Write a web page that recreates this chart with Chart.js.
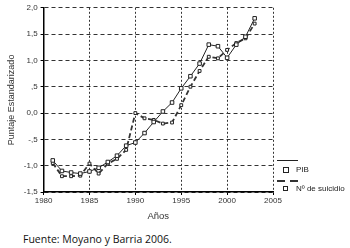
<!DOCTYPE html>
<html>
<head>
<meta charset="utf-8">
<script src="https://cdn.jsdelivr.net/npm/chart.js@4"></script>
<style>
  html, body { margin: 0; padding: 0; background: #fff; }
  #wrap { position: relative; width: 350px; height: 248px; overflow: hidden; font-family: "Liberation Sans", Arial, sans-serif; }
  #box { position: absolute; left: 0; top: 0; width: 350px; height: 226px; }
  .leg { position: absolute; font-size: 8px; color: #222; }
  .sq { position: absolute; width: 4px; height: 4px; border: 1px solid #222; background: #fff; }
  #src { position: absolute; left: 23px; top: 232px; font-family: "Open Sans", sans-serif; font-size: 10.5px; color: #111; white-space: nowrap; }
</style>
</head>
<body>
<div id="wrap">
  <div id="box"><canvas id="c"></canvas></div>
  <div style="position:absolute;left:277px;top:160px;width:21px;border-top:1px solid #222;"></div>
  <div class="sq" style="left:283px;top:167px;"></div>
  <div class="leg" style="left:296px;top:165px;">PIB</div>
  <div style="position:absolute;left:277px;top:180px;width:8px;border-top:2px solid #333;"></div>
  <div style="position:absolute;left:290px;top:180px;width:8px;border-top:2px solid #333;"></div>
  <div class="sq" style="left:283px;top:186px;width:3px;height:3px;"></div>
  <div class="leg" style="left:296px;top:184px;">Nº de suicidio</div>
  <div id="src">Fuente: Moyano y Barria 2006.</div>
</div>
<script>
// years 1981-2003, standardized scores
const years = [1981, 1982, 1983, 1984, 1985, 1986, 1987, 1988, 1989, 1990, 1991, 1992,
               1993, 1994, 1995, 1996, 1997, 1998, 1999, 2000, 2001, 2002, 2003];
const pib = [-0.90, -1.10, -1.13, -1.15, -1.11, -1.04, -0.93, -0.81, -0.62, -0.56, -0.38, -0.17,
             0.03, 0.20, 0.47, 0.70, 0.94, 1.30, 1.27, 1.05, 1.30, 1.45, 1.80];
const suicidio = [-0.95, -1.20, -1.20, -1.19, -0.96, -1.15, -0.96, -0.87, -0.70, 0.00, -0.10, -0.13,
                  -0.20, -0.18, 0.15, 0.50, 0.80, 1.07, 1.04, 1.20, 1.33, 1.42, 1.70];
const yLabels = { '2': '2,0', '1.5': '1,5', '1': '1,0', '0.5': ',5', '0': '0,0',
                  '-0.5': '-,5', '-1': '-1,0', '-1.5': '-1,5' };

const INK = '#222';
const tickFont = { family: '"Liberation Sans", Arial, sans-serif', size: 8 };

new Chart(document.getElementById('c'), {
  type: 'line',
  data: {
    datasets: [
      { label: 'PIB', data: years.map((y, i) => ({ x: y, y: pib[i] })),
        borderColor: INK, borderWidth: 1, pointStyle: 'rect', pointRadius: 2.5,
        pointBackgroundColor: '#fff', pointBorderColor: INK, pointBorderWidth: 1, tension: 0 },
      { label: 'Nº de suicidio', data: years.map((y, i) => ({ x: y, y: suicidio[i] })),
        borderColor: '#333', borderWidth: 1.8, borderDash: [5, 3], pointStyle: 'rect', pointRadius: 2,
        pointBackgroundColor: '#fff', pointBorderColor: INK, pointBorderWidth: 1, tension: 0 }
    ]
  },
  options: {
    responsive: true, maintainAspectRatio: false, animation: false,
    layout: { padding: { top: 0, right: 77, left: 2, bottom: 0 } },
    scales: {
      x: {
        type: 'linear', min: 1980, max: 2005,
        ticks: { stepSize: 5, font: tickFont, color: '#333', padding: 1, maxRotation: 0, callback: v => String(v) },
        grid: { color: '#333', lineWidth: 1, tickLength: 3, tickBorderDash: [], tickColor: '#000' },
        border: { color: '#000', width: 1.5, dash: [2, 2] },
        title: { display: true, text: 'Años', font: { family: '"Liberation Sans", Arial, sans-serif', size: 9.5 }, color: '#333', padding: { top: 4 } }
      },
      y: {
        min: -1.5, max: 2,
        ticks: { stepSize: 0.5, font: tickFont, color: '#333', padding: 3, callback: v => yLabels[String(v)] },
        grid: { color: '#333', lineWidth: 1, tickLength: 3, tickColor: '#000' },
        border: { color: '#000', width: 1.5, dash: [4, 3] },
        title: { display: true, text: 'Puntaje Estandarizado', font: { family: '"Liberation Sans", Arial, sans-serif', size: 9 }, color: '#333', padding: { bottom: 4 } }
      }
    },
    plugins: { legend: { display: false }, tooltip: { enabled: false } }
  }
});
</script>
</body>
</html>
